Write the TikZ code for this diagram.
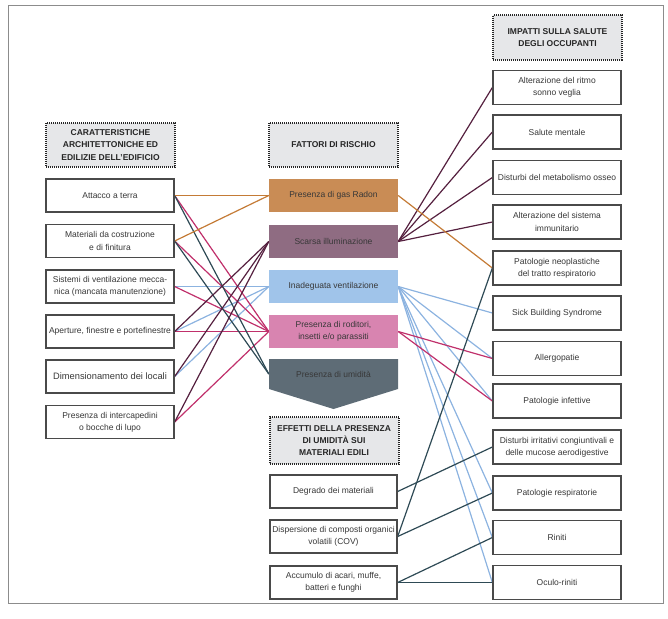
\documentclass[tikz,border=0pt]{standalone}
\usepackage{fontspec}
\setmainfont{Liberation Sans}
\usetikzlibrary{backgrounds}
\definecolor{txtgrey}{HTML}{383838}
\definecolor{boxgrey}{HTML}{4A4A4A}
\definecolor{hdrfill}{HTML}{E6E7E9}
\definecolor{framegrey}{HTML}{8C8C8C}
\definecolor{radonfill}{HTML}{C98C55}
\definecolor{scarsafill}{HTML}{8F6C82}
\definecolor{inadfill}{HTML}{A0C4EA}
\definecolor{rodfill}{HTML}{D884B0}
\definecolor{umifill}{HTML}{5E6C76}
\definecolor{corange}{HTML}{C47B36}
\definecolor{cplum}{HTML}{55203F}
\definecolor{cblue}{HTML}{8CB3E0}
\definecolor{cmag}{HTML}{C0306B}
\definecolor{cteal}{HTML}{2E4A55}
\begin{document}
\begin{tikzpicture}[x=1pt,y=-1pt,
  txt/.style={font=\fontsize{8.5}{12.3}\selectfont, text=txtgrey, align=center, inner sep=1pt},
  wbox/.style={txt, draw=boxgrey, line width=1.3pt, fill=white, minimum width=128pt, minimum height=33pt},
  hbox/.style={draw=black!85, dash pattern=on 1pt off 1pt, line width=2pt, fill=hdrfill,
    minimum width=129pt, minimum height=44pt, align=center,
    font=\fontsize{8.5}{12.3}\selectfont\bfseries, text=black!85, inner sep=1pt},
  rbox/.style={txt, minimum width=129pt, minimum height=33pt},
  conn/.style={line width=1.2pt},
]
\useasboundingbox (0,0) rectangle (668,618);
\draw[framegrey, line width=1pt] (8,6) rectangle (663,603);

% headers
\node[hbox] (hL) at (110.5,145) {CARATTERISTICHE\\ARCHITETTONICHE ED\\EDILIZIE DELL'EDIFICIO};
\node[hbox] (hM) at (333.5,145) {FATTORI DI RISCHIO};
\node[hbox] (hR) at (557.5,37.5) {IMPATTI SULLA SALUTE\\DEGLI OCCUPANTI};
\node[hbox, minimum height=47pt] (hE) at (334,440.5) {EFFETTI DELLA PRESENZA\\DI UMIDITÀ SUI\\MATERIALI EDILI};

% left column
\node[wbox] (l1) at (110,195.5) {Attacco a terra};
\node[wbox] (l2) at (110,241) {Materiali da costruzione\\e di finitura};
\node[wbox] (l3) at (110,286.5) {Sistemi di ventilazione mecca-\\nica (mancata manutenzione)};
\node[wbox] (l4) at (110,331.5) {Aperture, finestre e portefinestre};
\node[wbox, font=\fontsize{9.3}{12.3}\selectfont] (l5) at (110,376.5) {Dimensionamento dei locali};
\node[wbox] (l6) at (110,422) {Presenza di intercapedini\\o bocche di lupo};

% middle column
\node[rbox, fill=radonfill] (m1) at (333.5,195.5) {Presenza di gas Radon};
\node[rbox, fill=scarsafill] (m2) at (333.5,241.5) {Scarsa illuminazione};
\node[rbox, fill=inadfill] (m3) at (333.5,286.5) {Inadeguata ventilazione};
\node[rbox, fill=rodfill] (m4) at (333.5,331.5) {Presenza di roditori,\\insetti e/o parassiti};
\fill[umifill] (269,359) -- (398,359) -- (398,389) -- (333.5,409) -- (269,389) -- cycle;
\node[rbox, minimum height=30pt] (m5) at (333.5,374) {Presenza di umidità};

% effects
\node[wbox, minimum width=127pt] (e1) at (333.5,491.5) {Degrado dei materiali};
\node[wbox, minimum width=127pt] (e2) at (333.5,536.5) {Dispersione di composti organici\\volatili (COV)};
\node[wbox, minimum width=127pt] (e3) at (333.5,582.5) {Accumulo di acari, muffe,\\batteri e funghi};

% right column
\begin{scope}[every node/.style={wbox, minimum height=34pt}]
\node (r1) at (557,87.5) {Alterazione del ritmo\\sonno veglia};
\node (r2) at (557,132) {Salute mentale};
\node (r3) at (557,177.5) {Disturbi del metabolismo osseo};
\node (r4) at (557,222) {Alterazione del sistema\\immunitario};
\node (r5) at (557,268) {Patologie neoplastiche\\del tratto respiratorio};
\node (r6) at (557,313) {Sick Building Syndrome};
\node (r7) at (557,358.5) {Allergopatie};
\node (r8) at (557,401) {Patologie infettive};
\node (r9) at (557,447) {Disturbi irritativi congiuntivali e\\delle mucose aerodigestive};
\node (r10) at (557,493) {Patologie respiratorie};
\node (r11) at (557,537.5) {Riniti};
\node (r12) at (557,582.5) {Oculo-riniti};
\end{scope}

% connectors
\begin{pgfonlayer}{background}
\begin{scope}[conn]
\draw[cblue] (l3.east) -- (m3.west);
\draw[cblue] (l4.east) -- (m3.west);
\draw[cblue] (l5.east) -- (m3.west);
\foreach \t in {r6,r7,r8,r10,r11,r12} \draw[cblue] (m3.east) -- (\t.west);
\draw[cmag] (l1.east) -- (m4.west);
\draw[cmag] (l2.east) -- (m4.west);
\draw[cmag] (l3.east) -- (m4.west);
\draw[cmag] (l4.east) -- (m4.west);
\draw[cmag] (l6.east) -- (m4.west);
\draw[cmag] (m4.east) -- (r7.west);
\draw[cmag] (m4.east) -- (r8.west);
\draw[cteal] (l1.east) -- (m5.west);
\draw[cteal] (l2.east) -- (m5.west);
\draw[cplum] (l4.east) -- (m2.west);
\draw[cplum] (l5.east) -- (m2.west);
\draw[cplum] (l6.east) -- (m2.west);
\foreach \t in {r1,r2,r3,r4} \draw[cplum] (m2.east) -- (\t.west);
\draw[corange] (l1.east) -- (m1.west);
\draw[corange] (l2.east) -- (m1.west);
\draw[corange] (m1.east) -- (r5.west);
\draw[cteal] (e1.east) -- (r9.west);
\draw[cteal] (e2.east) -- (r5.west);
\draw[cteal] (e2.east) -- (r10.west);
\draw[cteal] (e3.east) -- (r11.west);
\draw[cteal] (e3.east) -- (r12.west);
\end{scope}
\end{pgfonlayer}
\end{tikzpicture}
\end{document}
